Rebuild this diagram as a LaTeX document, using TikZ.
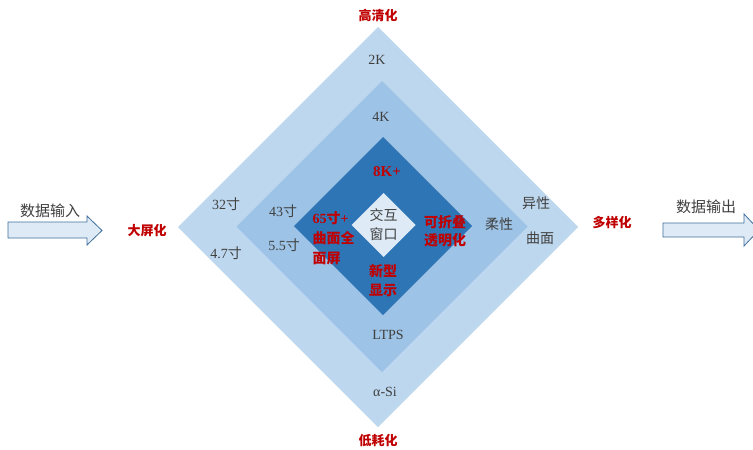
\documentclass[tikz,border=0pt]{standalone}
\usepackage{fontspec}
\setmainfont{Liberation Serif}
\newfontfamily\cjk{Noto Sans CJK SC}
\usepackage{tikz}
\usetikzlibrary{shapes.geometric}
\definecolor{ringout}{HTML}{BDD7EE}
\definecolor{ringmid}{HTML}{9DC3E6}
\definecolor{ringcore}{HTML}{2E75B6}
\definecolor{ringeye}{HTML}{DEEBF7}
\definecolor{hotred}{HTML}{C00000}
\definecolor{txtgray}{HTML}{404040}
\definecolor{flowline}{HTML}{41719C}

\begin{document}
\begin{tikzpicture}[x=1pt,y=-1pt,
  every node/.style={font=\fontsize{14}{19}\selectfont,text=txtgray,inner sep=0pt},
  ring/.style={diamond,aspect=1,inner sep=0pt,outer sep=0pt,minimum size=#1},
  goal/.style={font=\fontsize{13}{16}\selectfont\cjk\bfseries,text=hotred},
  hot/.style={font=\fontsize{14}{19}\selectfont\bfseries,text=hotred,align=center},
  flow/.style={draw=flowline,fill=ringeye,line width=0.8pt}
]
  \path[use as bounding box,fill=white] (0,0) rectangle (753,450);

  % nested diamonds
  \node[ring=400pt,fill=ringout] (outer) at (378,227) {};
  \node[ring=291pt,fill=ringmid] (middle) at (382,226.5) {};
  \node[ring=178pt,fill=ringcore] (core) at (383,226) {};
  \node[ring=64pt,fill=ringeye] (eye) at (383.5,225) {};

  % input and output arrows
  \draw[flow] (8,222) -- (87,222) -- (87,216) -- (102,230.5) -- (87,245) -- (87,238) -- (8,238) -- cycle;
  \draw[flow] (663,223) -- (744,223) -- (744,214) -- (759,230) -- (744,246) -- (744,237) -- (663,237) -- cycle;
  \node[font=\fontsize{15}{19}\selectfont\cjk] (inlbl) at (50,211) {数据输入};
  \node[font=\fontsize{15}{19}\selectfont\cjk] (outlbl) at (706,207) {数据输出};

  % directions
  \node[goal] (hd) at (378,16) {高清化};
  \node[goal] (low) at (378,441) {低耗化};
  \node[goal] (big) at (147,231) {大屏化};
  \node[goal] (multi) at (612,223) {多样化};

  % outer ring
  \node (k2) at (377,60) {2K};
  \node (s32) at (226,204) {32{\cjk 寸}};
  \node (s47) at (226,253) {4.7{\cjk 寸}};
  \node[font=\fontsize{14}{19}\selectfont\cjk] (odd) at (536,203) {异性};
  \node[font=\fontsize{14}{19}\selectfont\cjk] (curve) at (540,238) {曲面};
  \node (asi) at (385,392) {α-Si};

  % middle ring
  \node (k4) at (381,117) {4K};
  \node (s43) at (283,211) {43{\cjk 寸}};
  \node (s55) at (284,245) {5.5{\cjk 寸}};
  \node[font=\fontsize{14}{19}\selectfont\cjk] (flex) at (499,224) {柔性};
  \node (ltps) at (388,335) {LTPS};

  % core ring
  \node[hot,font=\fontsize{15}{19}\selectfont\bfseries] (k8) at (387,172) {8K+};
  \node[hot,align=left,font=\fontsize{14}{20}\selectfont\bfseries] (s65) at (333.5,238) {65{\cjk 寸}+\\{\cjk 曲面全}\\{\cjk 面屏}};
  \node[hot,font=\fontsize{14}{18}\selectfont\cjk\bfseries] (fold) at (445,231) {可折叠\\透明化};
  \node[hot,font=\fontsize{14}{19}\selectfont\cjk\bfseries] (newd) at (383,281) {新型\\显示};
  \node[align=center,font=\fontsize{14}{19}\selectfont\cjk] (win) at (eye) {交互\\窗口};
\end{tikzpicture}
\end{document}
